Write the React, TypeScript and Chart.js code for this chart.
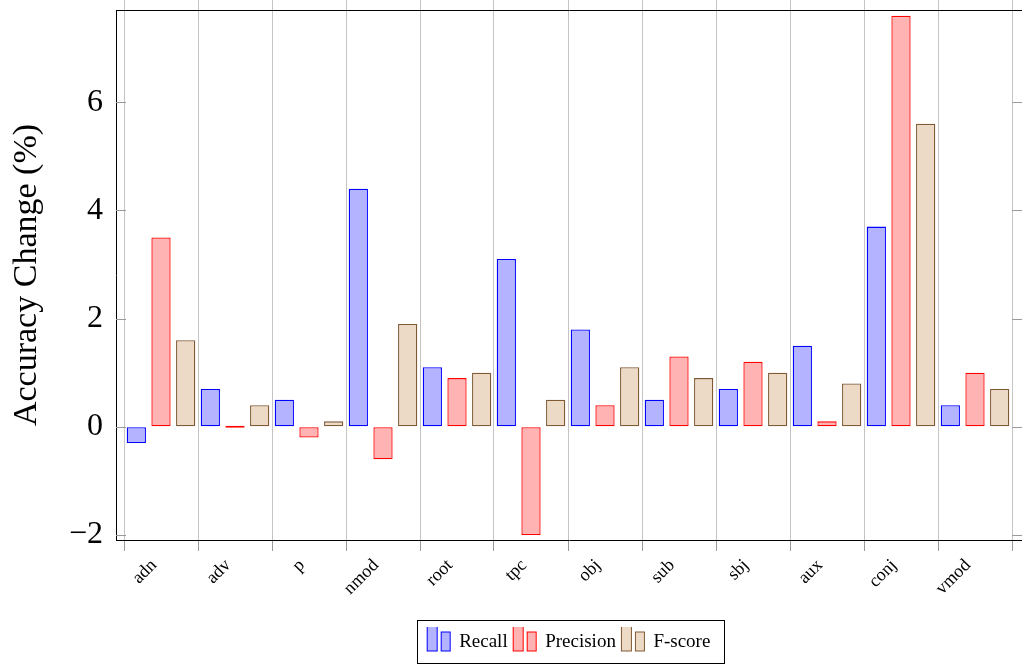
import React, { useEffect, useRef } from "react";
import { Chart, registerables } from "chart.js";

Chart.register(...registerables);

const categories = ["adn", "adv", "p", "nmod", "root", "tpc", "obj", "sub", "sbj", "aux", "conj", "vmod"];
const recall = [-0.3, 0.7, 0.5, 4.4, 1.1, 3.1, 1.8, 0.5, 0.7, 1.5, 3.7, 0.4];
const precision = [3.5, 0.0, -0.2, -0.6, 0.9, -2.0, 0.4, 1.3, 1.2, 0.1, 7.6, 1.0];
const fscore = [1.6, 0.4, 0.1, 1.9, 1.0, 0.5, 1.1, 0.9, 1.0, 0.8, 5.6, 0.7];
const yTicks = [-2, 0, 2, 4, 6];
const seriesNames = ["Recall", "Precision", "F-score"];

const FONT = "'Liberation Serif', 'Times New Roman', serif";
const GRID = "#c4c4c4";
const TICK = "#9a9a9a";

const fills = ["rgb(179,179,255)", "rgb(255,179,179)", "rgb(236,217,198)"];
const borders = ["rgb(0,0,255)", "rgb(255,0,0)", "rgb(128,90,52)"];

function makeIcon(fill: string, stroke: string): HTMLCanvasElement {
  const c = document.createElement("canvas");
  c.width = 26;
  c.height = 36;
  const ctx = c.getContext("2d")!;
  ctx.fillStyle = fill;
  ctx.strokeStyle = stroke;
  ctx.lineWidth = 1;
  ctx.fillRect(1.5, 1.5, 10, 25);
  ctx.strokeRect(1.5, 1.5, 10, 25);
  ctx.fillRect(15.5, 7.5, 9, 19);
  ctx.strokeRect(15.5, 7.5, 9, 19);
  return c;
}

const innerTicks = {
  id: "innerTicks",
  beforeDatasetsDraw(chart: any) {
    const { ctx, chartArea, scales } = chart;
    const ys = scales.y;
    ctx.save();
    ctx.strokeStyle = TICK;
    ctx.lineWidth = 1;
    ctx.beginPath();
    for (const t of yTicks) {
      const py = Math.round(ys.getPixelForValue(t)) + 0.5;
      ctx.moveTo(chartArea.left, py);
      ctx.lineTo(chartArea.left + 10, py);
      ctx.moveTo(chartArea.right - 10, py);
      ctx.lineTo(chartArea.right, py);
    }
    ctx.stroke();
    ctx.restore();
  },
};

const legendBox = {
  id: "legendBox",
  afterDraw(chart: any) {
    const lg = chart.legend;
    if (!lg || !lg.legendHitBoxes || !lg.legendHitBoxes.length) return;
    const hb = lg.legendHitBoxes;
    const first = hb[0];
    const last = hb[hb.length - 1];
    const left = Math.round(first.left - 11) + 0.5;
    const right = Math.round(last.left + last.width + 14) + 0.5;
    const top = Math.round(first.top - 13) + 0.5;
    const bottom = Math.round(first.top + first.height + 11) + 0.5;
    const ctx = chart.ctx;
    ctx.save();
    ctx.strokeStyle = "#000";
    ctx.lineWidth = 1;
    ctx.strokeRect(left, top, right - left, bottom - top);
    ctx.restore();
  },
};

function zeroPad(s: any) {
  s.paddingTop = 0;
  s.paddingBottom = 0;
  s.paddingLeft = 0;
  s.paddingRight = 0;
}

export default function App() {
  const ref = useRef<HTMLCanvasElement>(null);

  useEffect(() => {
    document.body.style.margin = "0";
    const icons = fills.map((f, i) => makeIcon(f, borders[i]));
    const series = [recall, precision, fscore];
    const xTickValues = Array.from({ length: categories.length + 1 }, (_, i) => i);

    const chart = new Chart(ref.current!, {
      type: "bar",
      data: {
        datasets: series.map((vals, k) => ({
          label: seriesNames[k],
          data: vals.map((v, i) => ({ x: i + 0.5, y: v })),
          backgroundColor: fills[k],
          borderColor: borders[k],
          borderWidth: 1.3,
          borderSkipped: false,
          minBarLength: 2,
          categoryPercentage: 1.0,
          barPercentage: 0.78,
          xAxisID: "x",
          yAxisID: "y",
        })),
      },
      options: {
        animation: false,
        responsive: false,
        maintainAspectRatio: false,
        layout: { padding: { left: 0, right: 0, top: 0, bottom: 2 } },
        plugins: {
          tooltip: { enabled: false },
          legend: {
            display: true,
            position: "bottom",
            fullSize: false,
            align: "center",
            labels: {
              usePointStyle: true,
              pointStyleWidth: 22,
              padding: 6,
              color: "#000",
              font: { family: FONT, size: 19 },
              generateLabels: () =>
                seriesNames.map((n, i) => ({
                  text: n,
                  pointStyle: icons[i],
                  fillStyle: fills[i],
                  strokeStyle: borders[i],
                  lineWidth: 0,
                  hidden: false,
                  datasetIndex: i,
                  fontColor: "#000",
                })),
            },
          },
        },
        scales: {
          x: {
            type: "linear",
            position: "bottom",
            offset: false,
            min: -8 / 74,
            max: 898 / 74,
            afterBuildTicks: (s: any) => {
              s.ticks = xTickValues.map((v) => ({ value: v }));
            },
            afterFit: (s: any) => {
              s.height = 87;
              zeroPad(s);
            },
            grid: {
              display: true,
              offset: false,
              drawOnChartArea: true,
              drawTicks: true,
              tickLength: 11,
              color: GRID,
              tickColor: TICK,
              lineWidth: 1,
            },
            border: { display: true, color: "#000", width: 1 },
            ticks: {
              autoSkip: false,
              minRotation: 45,
              maxRotation: 45,
              labelOffset: 30,
              padding: 4,
              color: "#000",
              font: { family: FONT, size: 18 },
              callback: (v: any) => categories[v as number] ?? "",
            },
          },
          x2: {
            type: "linear",
            position: "top",
            offset: false,
            min: -8 / 74,
            max: 898 / 74,
            afterBuildTicks: (s: any) => {
              s.ticks = xTickValues.map((v) => ({ value: v }));
            },
            afterFit: (s: any) => {
              s.height = 10;
              zeroPad(s);
            },
            grid: {
              display: true,
              offset: false,
              drawOnChartArea: false,
              drawTicks: true,
              tickLength: 10,
              color: GRID,
              tickColor: GRID,
            },
            border: { display: true, color: "#000", width: 1 },
            ticks: { display: false },
          },
          y: {
            type: "linear",
            position: "left",
            min: -2.093,
            max: 7.704,
            afterBuildTicks: (s: any) => {
              s.ticks = yTicks.map((v) => ({ value: v }));
            },
            afterFit: (s: any) => {
              s.width = 116;
              zeroPad(s);
            },
            grid: { display: true, drawOnChartArea: false, drawTicks: false },
            border: { display: true, color: "#000", width: 1 },
            ticks: {
              padding: 13,
              color: "#000",
              font: { family: FONT, size: 32 },
              callback: (v: any) => (v < 0 ? "\u2212" + Math.abs(v) : String(v)),
            },
            title: {
              display: true,
              text: "Accuracy Change (%)",
              color: "#000",
              font: { family: FONT, size: 34 },
              padding: { top: 7, bottom: 0 },
            },
          },
        },
      },
      plugins: [innerTicks, legendBox],
    } as any);

    return () => chart.destroy();
  }, []);

  return (
    <div style={{ width: 1022, height: 664 }}>
      <canvas ref={ref} width={1022} height={664} style={{ display: "block" }} />
    </div>
  );
}
